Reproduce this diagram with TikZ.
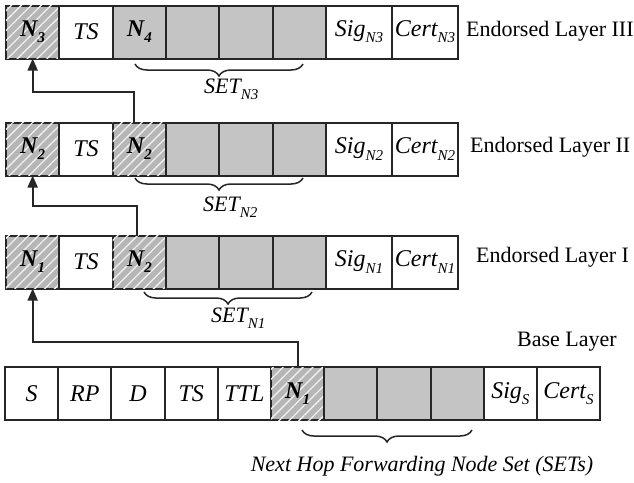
\documentclass[tikz,border=0pt]{standalone}
\usepackage{fontspec}
\setmainfont{Liberation Serif}
\usetikzlibrary{arrows.meta,patterns.meta,decorations.pathreplacing,calc}
\definecolor{cellgray}{RGB}{196,196,196}
\definecolor{hatchgray}{RGB}{182,182,182}
\definecolor{linecol}{RGB}{38,38,38}
% lowered, smaller index text
\newcommand{\lowsub}[1]{\raisebox{-0.26em}{\fontsize{15}{16}\selectfont #1}}
\newcommand{\Nb}[1]{\textbf{N\lowsub{#1}}}

\begin{document}
\begin{tikzpicture}[x=1pt,y=-1pt,
  cell/.style={draw=linecol, line width=2pt, minimum height=53pt, inner sep=0pt,
    outer sep=0pt, anchor=west, font=\fontsize{24}{28}\selectfont\itshape},
  plain/.style={cell, fill=white},
  solid/.style={cell, fill=cellgray},
  hatched/.style={cell, fill=hatchgray,
    postaction={pattern={Lines[angle=45, distance=7pt, line width=1.3pt]}, pattern color=white!80!hatchgray}},
  brace/.style={decorate, draw=linecol, line width=1.5pt,
    decoration={brace, amplitude=12pt, mirror}},
  arr/.style={draw=linecol, line width=1.8pt, -{Triangle[length=12pt, width=10pt]}},
  setlabel/.style={font=\fontsize{22}{26}\selectfont\itshape, inner sep=0pt, anchor=west},
  layerlabel/.style={font=\fontsize{22}{26}\selectfont, anchor=west, inner sep=0pt}]

\useasboundingbox[fill=white] (0,0) rectangle (634,482);

% ---- Endorsed Layer III ----
\node[hatched, minimum width=53.33pt] (L3c1) at (6,32) {\Nb{3}};
\node[plain,   minimum width=53.33pt] (L3c2) at (59.33,32) {TS};
\node[solid,   minimum width=53.33pt] (L3c3) at (112.67,32) {\Nb{4}};
\node[solid,   minimum width=53.33pt] (L3c4) at (166,32) {};
\node[solid,   minimum width=53.33pt] (L3c5) at (219.33,32) {};
\node[solid,   minimum width=53.33pt] (L3c6) at (272.67,32) {};
\node[plain,   minimum width=66pt] (L3c7) at (326,32) {Sig\lowsub{N3}};
\node[plain,   minimum width=66pt] (L3c8) at (392,32) {Cert\lowsub{N3}};
\node[layerlabel] (lab3) at (466,31) {Endorsed Layer III};

% ---- Endorsed Layer II ----
\node[hatched, minimum width=53.33pt] (L2c1) at (6,149) {\Nb{2}};
\node[plain,   minimum width=53.33pt] (L2c2) at (59.33,149) {TS};
\node[hatched, minimum width=53.33pt] (L2c3) at (112.67,149) {\Nb{2}};
\node[solid,   minimum width=53.33pt] (L2c4) at (166,149) {};
\node[solid,   minimum width=53.33pt] (L2c5) at (219.33,149) {};
\node[solid,   minimum width=53.33pt] (L2c6) at (272.67,149) {};
\node[plain,   minimum width=66pt] (L2c7) at (326,149) {Sig\lowsub{N2}};
\node[plain,   minimum width=66pt] (L2c8) at (392,149) {Cert\lowsub{N2}};
\node[layerlabel] (lab2) at (470,147) {Endorsed Layer II};

% ---- Endorsed Layer I ----
\node[hatched, minimum width=53.33pt] (L1c1) at (6,262) {\Nb{1}};
\node[plain,   minimum width=53.33pt] (L1c2) at (59.33,262) {TS};
\node[hatched, minimum width=53.33pt] (L1c3) at (112.67,262) {\Nb{2}};
\node[solid,   minimum width=53.33pt] (L1c4) at (166,262) {};
\node[solid,   minimum width=53.33pt] (L1c5) at (219.33,262) {};
\node[solid,   minimum width=53.33pt] (L1c6) at (272.67,262) {};
\node[plain,   minimum width=66pt] (L1c7) at (326,262) {Sig\lowsub{N1}};
\node[plain,   minimum width=66pt] (L1c8) at (392,262) {Cert\lowsub{N1}};
\node[layerlabel] (lab1) at (476,257) {Endorsed Layer I};

% ---- Base Layer ----
\node[plain,   minimum width=53.2pt] (B1) at (5,393.5) {S};
\node[plain,   minimum width=53.2pt] (B2) at (58.2,393.5) {RP};
\node[plain,   minimum width=53.2pt] (B3) at (111.4,393.5) {D};
\node[plain,   minimum width=53.2pt] (B4) at (164.6,393.5) {TS};
\node[plain,   minimum width=53.2pt] (B5) at (217.8,393.5) {TTL};
\node[hatched, minimum width=53.2pt] (B6) at (271,393.5) {\Nb{1}};
\node[solid,   minimum width=53.2pt] (B7) at (324.2,393.5) {};
\node[solid,   minimum width=53.2pt] (B8) at (377.4,393.5) {};
\node[solid,   minimum width=53.2pt] (B9) at (430.6,393.5) {};
\node[plain,   minimum width=53.2pt] (B10) at (483.8,393.5) {Sig\lowsub{S}};
\node[plain,   minimum width=63pt] (B11) at (537,393.5) {Cert\lowsub{S}};
\node[layerlabel] (lab0) at (517,342) {Base Layer};

% ---- braces and set labels ----
\coordinate (br3a) at (135,64);  \coordinate (br3b) at (303,64);
\draw[brace] (br3a) -- (br3b);
\node[setlabel] (set3) at (204,89) {SET\lowsub{N3}};

\coordinate (br2a) at (135,178); \coordinate (br2b) at (303,178);
\draw[brace] (br2a) -- (br2b);
\node[setlabel] (set2) at (203,207) {SET\lowsub{N2}};

\coordinate (br1a) at (144,292); \coordinate (br1b) at (312,292);
\draw[brace] (br1a) -- (br1b);
\node[setlabel] (set1) at (211,318) {SET\lowsub{N1}};

\coordinate (br0a) at (302,430); \coordinate (br0b) at (472,430);
\draw[brace] (br0a) -- (br0b);
\node[setlabel, anchor=center] (set0) at (422,466) {Next Hop Forwarding Node Set (SETs)};

% ---- forwarding arrows ----
\coordinate (s3) at ([xshift=-5pt]L2c3.north);
\coordinate (t3) at (0,92);
\draw[arr] (s3) -- (s3 |- t3) -| (L3c1.south);

\coordinate (s2) at ([xshift=-2pt]L1c3.north);
\coordinate (t2) at (0,206);
\draw[arr] (s2) -- (s2 |- t2) -| (L2c1.south);

\coordinate (s1) at (B6.north);
\coordinate (t1) at (0,342);
\draw[arr] (s1) -- (s1 |- t1) -| (L1c1.south);
\end{tikzpicture}
\end{document}
